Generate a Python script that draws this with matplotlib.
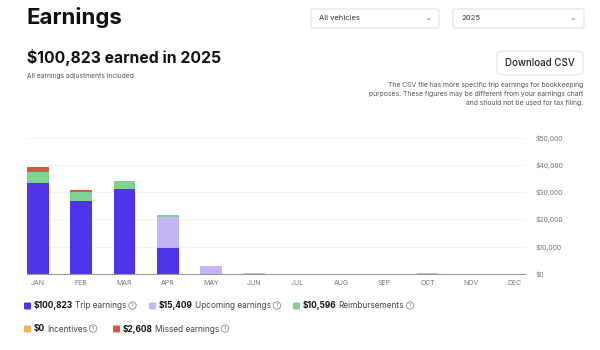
import matplotlib.pyplot as plt
from matplotlib.patches import FancyBboxPatch
import numpy as np

plt.rcParams['font.family'] = ['Inter', 'DejaVu Sans']

# Monthly earnings (USD)
months = ['JAN', 'FEB', 'MAR', 'APR', 'MAY', 'JUN', 'JUL', 'AUG', 'SEP', 'OCT', 'NOV', 'DEC']
trip = [33500, 26800, 31000, 9500, 0, 0, 0, 0, 0, 0, 0, 0]
upcoming = [0, 0, 0, 11500, 3100, 300, 0, 0, 0, 500, 0, 0]
reimbursements = [3700, 3300, 2900, 700, 0, 0, 0, 0, 0, 0, 0, 0]
incentives = [0] * 12
missed = [2000, 600, 0, 0, 0, 0, 0, 0, 0, 0, 0, 0]

series_names = ['Trip earnings', 'Upcoming earnings', 'Reimbursements', 'Incentives', 'Missed earnings']
series_totals = ['$100,823', '$15,409', '$10,596', '$0', '$2,608']
colors = ['#4f35ea', '#c3b5f6', '#7ed394', '#f7b55a', '#d65a3e']
y_ticks = [0, 10000, 20000, 30000, 40000, 50000]

W, H = 600, 350
fig = plt.figure(figsize=(6, 3.5), dpi=100)
fig.patch.set_facecolor('white')


def fx(px):
    return px / W


def fy(py):
    return 1 - py / H


# Header texts
fig.text(fx(27), fy(17), 'Earnings', fontsize=16, fontweight='bold', va='center', ha='left', color='#111111')
fig.text(fx(27), fy(58), '$100,823 earned in 2025', fontsize=11.3, fontweight='bold', va='center', ha='left',
         color='#111111')
fig.text(fx(27), fy(76), 'All earnings adjustments included', fontsize=4.8, va='center', ha='left', color='#555555')

# Dropdowns
for x0, x1, label in [(311, 439, 'All vehicles'), (453, 584, '2025')]:
    box = FancyBboxPatch((fx(x0), fy(28)), fx(x1 - x0), (28 - 9) / H, boxstyle='round,pad=0,rounding_size=0.004',
                         transform=fig.transFigure, facecolor='white', edgecolor='#dddddd', linewidth=0.7)
    fig.add_artist(box)
    fig.text(fx(x0 + 8), fy(18.5), label, fontsize=5.5, va='center', ha='left', color='#333333')
    fig.text(fx(x1 - 11), fy(17.5), '⌄', fontsize=6, va='center', ha='center', color='#777777',
             family='DejaVu Sans')

# Download button
btn = FancyBboxPatch((fx(497), fy(75)), fx(86), 24 / H, boxstyle='round,pad=0,rounding_size=0.012',
                     transform=fig.transFigure, facecolor='white', edgecolor='#e2e2e2', linewidth=0.7)
fig.add_artist(btn)
fig.text(fx(540), fy(63), 'Download CSV', fontsize=7, fontweight='medium', va='center', ha='center',
         color='#222222')

note = ['The CSV file has more specific trip earnings for bookkeeping',
        'purposes. These figures may be different from your earnings chart',
        'and should not be used for tax filing.']
for i, line in enumerate(note):
    fig.text(fx(583), fy(84.5 + i * 9.3), line, fontsize=4.9, va='center', ha='right', color='#555555')

# Chart
ax = fig.add_axes([fx(27), fy(274), fx(525 - 27), (274 - 137.5) / H])
x = np.arange(len(months))
bottom = np.zeros(len(months))
for vals, c in zip([trip, upcoming, reimbursements, incentives, missed], colors):
    vals = np.array(vals, dtype=float)
    ax.bar(x, vals, width=0.5, bottom=bottom, color=c, zorder=3, linewidth=0)
    bottom += vals

ax.set_xlim(-0.25, 11.25)
ax.set_ylim(0, 50000)
ax.set_yticks(y_ticks)
ax.set_yticklabels(['$' + format(v, ',') for v in y_ticks])
ax.yaxis.tick_right()
ax.tick_params(axis='y', length=0, pad=8, labelsize=5, labelcolor='#777777')
ax.set_xticks(x)
ax.set_xticklabels(months)
ax.tick_params(axis='x', length=0, pad=4, labelsize=5, labelcolor='#777777')
ax.grid(axis='y', color='#f2f2f2', linewidth=0.6, zorder=0)
for s in ['top', 'left', 'right']:
    ax.spines[s].set_visible(False)
ax.spines['bottom'].set_color('#999999')
ax.spines['bottom'].set_linewidth(0.8)
ax.spines['bottom'].set_zorder(4)

# Legend
renderer = fig.canvas.get_renderer()
legend_pos = [(24, 306), (149, 306), (293, 306), (24, 329), (113, 329)]
for (lx, ly), name, total, c in zip(legend_pos, series_names, series_totals, colors):
    sq = FancyBboxPatch((fx(lx), fy(ly + 3.5)), fx(7), 7 / H, boxstyle='round,pad=0,rounding_size=0.002',
                        transform=fig.transFigure, facecolor=c, edgecolor='none')
    fig.add_artist(sq)
    t1 = fig.text(fx(lx + 10), fy(ly), total, fontsize=6, fontweight='bold', va='center', ha='left',
                  color='#111111')
    bb = t1.get_window_extent(renderer)
    t2 = fig.text(bb.x1 / W + fx(2), fy(ly), name, fontsize=6, va='center', ha='left', color='#444444')
    bb2 = t2.get_window_extent(renderer)
    fig.text(bb2.x1 / W + fx(6), fy(ly - 0.5), '?', fontsize=3.5, va='center', ha='center', color='#666666',
             bbox=dict(boxstyle='circle,pad=0.25', facecolor='white', edgecolor='#777777', linewidth=0.5))

plt.savefig('out.png', dpi=100)
plt.close()
